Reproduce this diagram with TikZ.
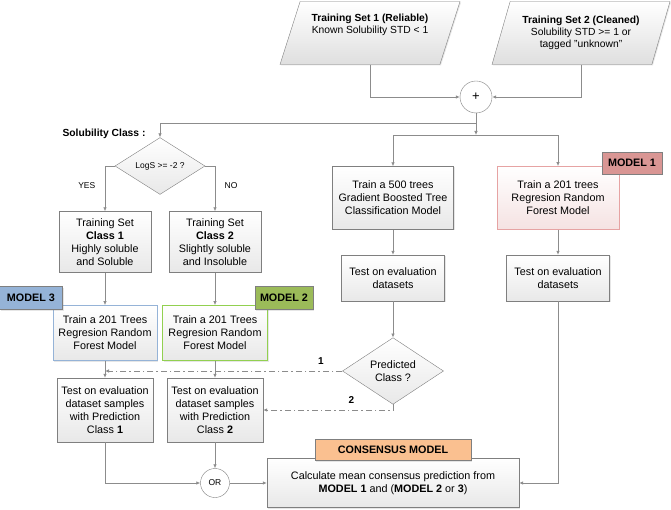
\documentclass[tikz,border=0pt]{standalone}
\usepackage{fontspec}
\setmainfont{Liberation Sans}
\usetikzlibrary{arrows.meta,shapes.geometric,shadows}

\definecolor{linegray}{HTML}{8C8C8C}
\definecolor{boxline}{HTML}{7F7F7F}
\definecolor{mthree}{HTML}{95B3D7}
\definecolor{mtwo}{HTML}{9BBB59}
\definecolor{mtwoline}{HTML}{92D050}
\definecolor{mone}{HTML}{D99694}
\definecolor{moneline}{HTML}{E6A3A3}
\definecolor{monefill}{HTML}{F5E2E2}
\definecolor{consorange}{HTML}{FAC090}

\begin{document}
\begin{tikzpicture}[x=1pt, y=-1pt,
  font=\fontsize{10.8}{13}\selectfont,
  box/.style={rectangle, draw=boxline, align=center, inner sep=2pt,
    top color=white, bottom color=gray!18,
    drop shadow={opacity=0.2, shadow xshift=1pt, shadow yshift=-1pt}},
  inset/.style={trapezium, trapezium left angle=63, trapezium right angle=117,
    trapezium stretches body, draw=boxline, align=center, inner sep=1pt,
    top color=white, bottom color=gray!25,
    drop shadow={opacity=0.2, shadow xshift=1pt, shadow yshift=-1pt}},
  test/.style={diamond, draw=boxline, align=center, inner sep=0pt,
    top color=white, bottom color=gray!18},
  junction/.style={circle, draw=boxline, fill=white, inner sep=0pt},
  tag/.style={rectangle, draw=boxline, inner sep=3pt,
    font=\fontsize{10.8}{13}\selectfont\bfseries,
    drop shadow={opacity=0.2, shadow xshift=1pt, shadow yshift=-1pt}},
  line/.style={draw=linegray, line width=0.7pt, -{Latex[length=4pt,width=3.5pt]}},
  dashline/.style={line, dash pattern=on 6pt off 3pt on 1.5pt off 3pt},
  small/.style={font=\fontsize{8.5}{10}\selectfont}]

\useasboundingbox (0,0) rectangle (671,510);

% INPUTS
  \node[inset, minimum width=180pt, minimum height=63pt, font=\fontsize{10.3}{12}\selectfont] (ts1) at (370,33)
    {\textbf{Training Set 1 (Reliable)}\\Known Solubility STD < 1\\[6pt]};
  \node[inset, minimum width=178pt, minimum height=63pt, font=\fontsize{10.3}{12}\selectfont] (ts2) at (581,33)
    {\textbf{Training Set 2 (Cleaned)}\\Solubility STD >= 1 or\\tagged "unknown"};
  \node[junction, minimum size=32pt, font=\fontsize{13}{13}\selectfont] (plus) at (476,97) {+};

  \draw[line] (ts1.south) |- (plus.west);
  \draw[line] (ts2.south) |- (plus.east);

  \coordinate (branch) at (476,123);
  \coordinate (split) at (476,135);
  \draw[line] (plus.south) -- (split);

% CLASSIFICATION BRANCH
  \node[font=\fontsize{10.3}{13}\selectfont\bfseries] (solclass) at (104,134) {Solubility Class :};
  \node[test, minimum width=90pt, minimum height=48pt, small] (logs) at (160,166) {LogS >= -2 ?};
  \draw[line] (branch) -| (logs.north);

  \node[box, minimum width=92pt, minimum height=61pt] (cls1) at (105,242)
    {Training Set\\\textbf{Class 1}\\Highly soluble\\and Soluble};
  \node[box, minimum width=92pt, minimum height=61pt] (cls2) at (215,242)
    {Training Set\\\textbf{Class 2}\\Slightly soluble\\and Insoluble};
  \draw[line] (logs.west) -| node[pos=0.72, left=6pt, small] {YES} (cls1.north);
  \draw[line] (logs.east) -| node[pos=0.72, right=6pt, small] {NO} (cls2.north);

  \node[box, draw=mthree, line width=0.8pt, minimum width=104pt, minimum height=55pt] (rf3) at (105,333)
    {Train a 201 Trees\\Regresion Random\\Forest Model};
  \node[box, draw=mtwoline, line width=0.8pt, minimum width=105pt, minimum height=55pt] (rf2) at (215,333)
    {Train a 201 Trees\\Regresion Random\\Forest Model};
  \node[tag, fill=mthree, minimum width=63pt, minimum height=23pt] (model3) at (31,298) {MODEL 3};
  \node[tag, fill=mtwo, minimum width=58pt, minimum height=23pt] (model2) at (284,298) {MODEL 2};
  \draw[line] (cls1) -- (rf3);
  \draw[line] (cls2) -- (rf2);

  \node[box, minimum width=96pt, minimum height=64pt] (test1) at (105,410)
    {Test on evaluation\\dataset samples\\with Prediction\\Class \textbf{1}};
  \node[box, minimum width=96pt, minimum height=64pt] (test2) at (215,410)
    {Test on evaluation\\dataset samples\\with Prediction\\Class \textbf{2}};
  \draw[line] (rf3) -- (test1);
  \draw[line] (rf2) -- (test2);

% REGRESSION AND CLASSIFIER
  \node[box, minimum width=121pt, minimum height=63pt] (gbt) at (393,198)
    {Train a 500 trees\\Gradient Boosted Tree\\Classification Model};
  \node[box, draw=moneline, line width=0.8pt, top color=white, bottom color=monefill,
    minimum width=122pt, minimum height=63pt] (rf1) at (558,198)
    {Train a 201 trees\\Regresion Random\\Forest Model};
  \node[tag, fill=mone, minimum width=60pt, minimum height=22pt] (model1) at (632,163) {MODEL 1};
  \draw[line] (split) -| (gbt.north);
  \draw[line] (split) -| (rf1.north);

  \node[box, minimum width=103pt, minimum height=46pt] (evalgbt) at (393,278)
    {Test on evaluation\\datasets};
  \node[box, minimum width=103pt, minimum height=46pt] (evalrf) at (558,278)
    {Test on evaluation\\datasets};
  \draw[line] (gbt) -- (evalgbt);
  \draw[line] (rf1) -- (evalrf);

  \node[test, minimum width=101pt, minimum height=53pt] (pred) at (393,371)
    {Predicted\\Class ?};
  \draw[line] (evalgbt) -- (pred);
  \draw[dashline] (pred.west) -- node[pos=0.09, above=3pt, font=\bfseries] {1} (pred.west -| rf3.south);
  \draw[dashline] (pred.south) |- node[pos=0.66, above=3pt, font=\bfseries] {2} (test2.east);

% CONSENSUS
  \node[junction, minimum size=29pt, small] (or) at (215,483) {OR};
  \node[box, minimum width=252pt, minimum height=49pt] (cons) at (393,483)
    {Calculate mean consensus prediction from\\\textbf{MODEL 1} and (\textbf{MODEL 2} or \textbf{3})};
  \node[tag, fill=consorange, minimum width=156pt, minimum height=21pt] (constag) at (393,450) {CONSENSUS MODEL};

  \draw[line] (test1.south) |- (or.west);
  \draw[line] (test2) -- (or);
  \draw[line] (or) -- (cons);
  \draw[line] (evalrf.south) |- (cons.east);
\end{tikzpicture}
\end{document}
